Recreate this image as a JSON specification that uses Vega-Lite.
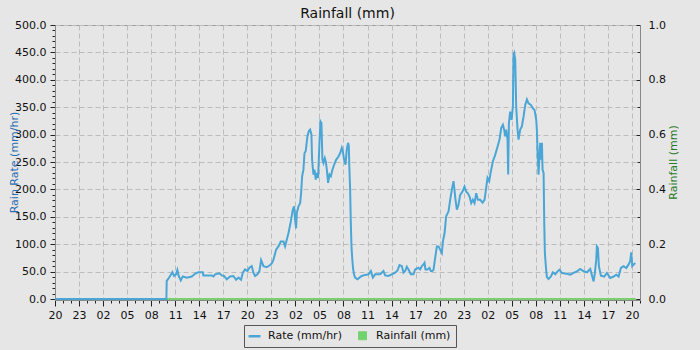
{
  "$schema": "https://vega.github.io/schema/vega-lite/v6.json",
  "width": 585,
  "height": 274,
  "autosize": {"type": "none"},
  "padding": {"left": 55, "top": 25, "right": 60, "bottom": 51},
  "background": "#e6e6e6",
  "title": {"text": "Rainfall (mm)", "fontSize": 14, "fontWeight": "normal", "color": "#111111", "anchor": "middle", "offset": -2},
  "datasets": {
    "rain": [
      {"hours": 0, "rainfall": 0},
      {"hours": 72.45, "rainfall": 0}
    ],
    "rate": [
      {"hours": 0, "rate": 0}, {"hours": 13.9, "rate": 0}, {"hours": 13.94, "rate": 33}, {"hours": 14.15, "rate": 37},
      {"hours": 14.36, "rate": 42}, {"hours": 14.65, "rate": 49}, {"hours": 14.86, "rate": 42}, {"hours": 15.11, "rate": 45},
      {"hours": 15.27, "rate": 53}, {"hours": 15.44, "rate": 42}, {"hours": 15.69, "rate": 34}, {"hours": 15.94, "rate": 41},
      {"hours": 16.44, "rate": 39}, {"hours": 17.06, "rate": 41}, {"hours": 17.48, "rate": 46}, {"hours": 17.89, "rate": 49},
      {"hours": 18.44, "rate": 49}, {"hours": 18.52, "rate": 43}, {"hours": 19.56, "rate": 43}, {"hours": 19.77, "rate": 41},
      {"hours": 19.98, "rate": 45}, {"hours": 20.52, "rate": 47}, {"hours": 20.81, "rate": 43}, {"hours": 21.1, "rate": 42},
      {"hours": 21.43, "rate": 36}, {"hours": 21.85, "rate": 41}, {"hours": 22.26, "rate": 42}, {"hours": 22.6, "rate": 35},
      {"hours": 22.89, "rate": 39}, {"hours": 23.22, "rate": 35}, {"hours": 23.43, "rate": 48}, {"hours": 23.72, "rate": 54},
      {"hours": 24.01, "rate": 51}, {"hours": 24.26, "rate": 57}, {"hours": 24.55, "rate": 60}, {"hours": 24.76, "rate": 48},
      {"hours": 24.97, "rate": 42}, {"hours": 25.26, "rate": 45}, {"hours": 25.51, "rate": 51}, {"hours": 25.72, "rate": 71},
      {"hours": 26.01, "rate": 60}, {"hours": 26.42, "rate": 58}, {"hours": 26.84, "rate": 62}, {"hours": 27.05, "rate": 65},
      {"hours": 27.26, "rate": 72}, {"hours": 27.59, "rate": 90}, {"hours": 27.88, "rate": 96}, {"hours": 28.17, "rate": 105},
      {"hours": 28.51, "rate": 105}, {"hours": 28.71, "rate": 96}, {"hours": 28.92, "rate": 108}, {"hours": 29.13, "rate": 120},
      {"hours": 29.42, "rate": 141}, {"hours": 29.67, "rate": 163}, {"hours": 29.84, "rate": 169}, {"hours": 29.96, "rate": 145},
      {"hours": 30.09, "rate": 129}, {"hours": 30.17, "rate": 157}, {"hours": 30.38, "rate": 169}, {"hours": 30.59, "rate": 175},
      {"hours": 30.71, "rate": 193}, {"hours": 30.84, "rate": 224}, {"hours": 31.0, "rate": 236}, {"hours": 31.13, "rate": 266},
      {"hours": 31.29, "rate": 270}, {"hours": 31.5, "rate": 297}, {"hours": 31.67, "rate": 306}, {"hours": 31.84, "rate": 309},
      {"hours": 32.0, "rate": 300}, {"hours": 32.08, "rate": 254}, {"hours": 32.25, "rate": 227}, {"hours": 32.38, "rate": 236},
      {"hours": 32.54, "rate": 218}, {"hours": 32.67, "rate": 230}, {"hours": 32.83, "rate": 221}, {"hours": 33.0, "rate": 285},
      {"hours": 33.13, "rate": 324}, {"hours": 33.25, "rate": 321}, {"hours": 33.37, "rate": 254}, {"hours": 33.5, "rate": 248},
      {"hours": 33.67, "rate": 257}, {"hours": 33.79, "rate": 251}, {"hours": 33.92, "rate": 236}, {"hours": 34.08, "rate": 212},
      {"hours": 34.25, "rate": 227}, {"hours": 34.42, "rate": 224}, {"hours": 34.62, "rate": 236}, {"hours": 34.83, "rate": 245},
      {"hours": 35.08, "rate": 254}, {"hours": 35.37, "rate": 260}, {"hours": 35.58, "rate": 266}, {"hours": 35.79, "rate": 276},
      {"hours": 35.91, "rate": 270}, {"hours": 36.08, "rate": 254}, {"hours": 36.25, "rate": 245}, {"hours": 36.41, "rate": 273},
      {"hours": 36.58, "rate": 285}, {"hours": 36.66, "rate": 279}, {"hours": 36.74, "rate": 236}, {"hours": 36.83, "rate": 200},
      {"hours": 36.91, "rate": 140}, {"hours": 37.0, "rate": 95}, {"hours": 37.1, "rate": 72}, {"hours": 37.2, "rate": 55},
      {"hours": 37.33, "rate": 44}, {"hours": 37.45, "rate": 39}, {"hours": 37.74, "rate": 36}, {"hours": 37.99, "rate": 39},
      {"hours": 38.28, "rate": 42}, {"hours": 38.7, "rate": 44}, {"hours": 39.12, "rate": 45}, {"hours": 39.41, "rate": 51},
      {"hours": 39.66, "rate": 39}, {"hours": 39.95, "rate": 45}, {"hours": 40.57, "rate": 45}, {"hours": 40.99, "rate": 51},
      {"hours": 41.2, "rate": 43}, {"hours": 41.61, "rate": 42}, {"hours": 42.03, "rate": 45}, {"hours": 42.45, "rate": 48},
      {"hours": 42.74, "rate": 52}, {"hours": 42.99, "rate": 62}, {"hours": 43.28, "rate": 60}, {"hours": 43.49, "rate": 48},
      {"hours": 43.7, "rate": 51}, {"hours": 43.9, "rate": 59}, {"hours": 44.11, "rate": 54}, {"hours": 44.4, "rate": 45},
      {"hours": 44.73, "rate": 45}, {"hours": 44.94, "rate": 54}, {"hours": 45.36, "rate": 57}, {"hours": 45.57, "rate": 54},
      {"hours": 45.78, "rate": 60}, {"hours": 45.98, "rate": 63}, {"hours": 46.11, "rate": 66}, {"hours": 46.23, "rate": 54},
      {"hours": 46.48, "rate": 54}, {"hours": 46.73, "rate": 57}, {"hours": 46.9, "rate": 51}, {"hours": 47.07, "rate": 51},
      {"hours": 47.23, "rate": 53}, {"hours": 47.44, "rate": 75}, {"hours": 47.65, "rate": 96}, {"hours": 47.86, "rate": 96},
      {"hours": 48.07, "rate": 90}, {"hours": 48.27, "rate": 84}, {"hours": 48.4, "rate": 105}, {"hours": 48.61, "rate": 120},
      {"hours": 48.81, "rate": 151}, {"hours": 49.11, "rate": 160}, {"hours": 49.31, "rate": 181}, {"hours": 49.52, "rate": 199},
      {"hours": 49.73, "rate": 215}, {"hours": 49.85, "rate": 199}, {"hours": 49.98, "rate": 181}, {"hours": 50.15, "rate": 163},
      {"hours": 50.35, "rate": 172}, {"hours": 50.56, "rate": 190}, {"hours": 50.85, "rate": 196}, {"hours": 51.1, "rate": 205},
      {"hours": 51.31, "rate": 196}, {"hours": 51.52, "rate": 193}, {"hours": 51.73, "rate": 187}, {"hours": 51.94, "rate": 175},
      {"hours": 52.14, "rate": 181}, {"hours": 52.35, "rate": 175}, {"hours": 52.56, "rate": 193}, {"hours": 52.77, "rate": 181},
      {"hours": 53.06, "rate": 181}, {"hours": 53.35, "rate": 176}, {"hours": 53.6, "rate": 181}, {"hours": 53.77, "rate": 199},
      {"hours": 53.97, "rate": 221}, {"hours": 54.18, "rate": 215}, {"hours": 54.39, "rate": 233}, {"hours": 54.64, "rate": 251},
      {"hours": 54.93, "rate": 263}, {"hours": 55.22, "rate": 278}, {"hours": 55.47, "rate": 291}, {"hours": 55.68, "rate": 312},
      {"hours": 55.89, "rate": 318}, {"hours": 56.05, "rate": 309}, {"hours": 56.18, "rate": 297}, {"hours": 56.3, "rate": 309},
      {"hours": 56.47, "rate": 291}, {"hours": 56.55, "rate": 227}, {"hours": 56.64, "rate": 321}, {"hours": 56.8, "rate": 342},
      {"hours": 56.97, "rate": 327}, {"hours": 57.14, "rate": 351}, {"hours": 57.22, "rate": 446}, {"hours": 57.3, "rate": 449},
      {"hours": 57.43, "rate": 437}, {"hours": 57.55, "rate": 351}, {"hours": 57.72, "rate": 309}, {"hours": 57.84, "rate": 291},
      {"hours": 58.05, "rate": 309}, {"hours": 58.26, "rate": 315}, {"hours": 58.47, "rate": 333}, {"hours": 58.68, "rate": 354},
      {"hours": 58.89, "rate": 364}, {"hours": 59.09, "rate": 357}, {"hours": 59.38, "rate": 354}, {"hours": 59.63, "rate": 348},
      {"hours": 59.84, "rate": 345}, {"hours": 60.05, "rate": 327}, {"hours": 60.13, "rate": 309}, {"hours": 60.22, "rate": 268},
      {"hours": 60.34, "rate": 227}, {"hours": 60.47, "rate": 267}, {"hours": 60.55, "rate": 285}, {"hours": 60.67, "rate": 254},
      {"hours": 60.76, "rate": 285}, {"hours": 60.84, "rate": 236}, {"hours": 60.97, "rate": 230}, {"hours": 61.05, "rate": 139},
      {"hours": 61.13, "rate": 84}, {"hours": 61.26, "rate": 58}, {"hours": 61.38, "rate": 40}, {"hours": 61.59, "rate": 36.5},
      {"hours": 61.88, "rate": 41}, {"hours": 62.13, "rate": 48.7}, {"hours": 62.42, "rate": 45}, {"hours": 62.71, "rate": 50.5},
      {"hours": 62.96, "rate": 53.6}, {"hours": 63.25, "rate": 47.5}, {"hours": 63.88, "rate": 46}, {"hours": 64.29, "rate": 44.4},
      {"hours": 64.71, "rate": 47.5}, {"hours": 65.13, "rate": 50.5}, {"hours": 65.54, "rate": 54.8}, {"hours": 65.96, "rate": 50.5},
      {"hours": 66.38, "rate": 48.7}, {"hours": 66.79, "rate": 54.8}, {"hours": 67.04, "rate": 41}, {"hours": 67.21, "rate": 32},
      {"hours": 67.37, "rate": 47.5}, {"hours": 67.54, "rate": 71.8}, {"hours": 67.62, "rate": 96}, {"hours": 67.75, "rate": 93},
      {"hours": 67.87, "rate": 60}, {"hours": 68.12, "rate": 42.6}, {"hours": 68.54, "rate": 41}, {"hours": 68.87, "rate": 47.5},
      {"hours": 69.29, "rate": 38.4}, {"hours": 69.71, "rate": 41}, {"hours": 70.04, "rate": 44.4}, {"hours": 70.33, "rate": 41},
      {"hours": 70.62, "rate": 56.6}, {"hours": 70.95, "rate": 60}, {"hours": 71.29, "rate": 56.6}, {"hours": 71.56, "rate": 62.7},
      {"hours": 71.77, "rate": 68.8}, {"hours": 71.91, "rate": 85}, {"hours": 72.03, "rate": 60}, {"hours": 72.2, "rate": 62.7},
      {"hours": 72.41, "rate": 65.7}
    ]
  },
  "encoding": {
    "x": {
      "field": "hours",
      "type": "quantitative",
      "scale": {"domain": [0, 73], "nice": false, "zero": false},
      "axis": {
        "title": null,
        "offset": 1,
        "values": [0,1,2,3,4,5,6,7,8,9,10,11,12,13,14,15,16,17,18,19,20,21,22,23,24,25,26,27,28,29,30,31,32,33,34,35,36,37,38,39,40,41,42,43,44,45,46,47,48,49,50,51,52,53,54,55,56,57,58,59,60,61,62,63,64,65,66,67,68,69,70,71,72,73],
        "labelExpr": "datum.value % 3 === 0 ? (((datum.value + 20) % 24) < 10 ? '0' : '') + ((datum.value + 20) % 24) : ''",
        "labelOverlap": false,
        "labelFlush": false,
        "labelPadding": 3,
        "grid": true,
        "gridOpacity": {"condition": {"test": "datum.value % 3 !== 0 || datum.value === 0", "value": 0}, "value": 1},
        "tickSize": {"condition": {"test": "datum.value % 3 !== 0", "value": 3}, "value": 6}
      }
    }
  },
  "layer": [
    {
      "data": {"name": "rain"},
      "mark": {"type": "line", "strokeWidth": 2},
      "encoding": {
        "y": {
          "field": "rainfall",
          "type": "quantitative",
          "scale": {"domain": [0, 1], "nice": false},
          "axis": {
            "orient": "right",
            "title": "Rainfall (mm)",
            "titleColor": "#2a7a2a",
            "titleX": 33,
            "titleY": 137,
            "titleAngle": 270,
            "titleAlign": "center",
            "titleBaseline": "middle",
            "values": [0, 0.1, 0.2, 0.3, 0.4, 0.5, 0.6, 0.7, 0.8, 0.9, 1.0],
            "labelExpr": "round(datum.value * 10) % 2 === 0 ? format(datum.value, '.1f') : ''",
            "labelOverlap": false,
            "labelFlush": false,
            "grid": false,
            "tickSize": {"condition": {"test": "round(datum.value * 10) % 2 !== 0", "value": -3}, "value": -4},
            "labelPadding": 12
          }
        },
        "color": {
          "datum": "Rainfall (mm)",
          "type": "nominal",
          "scale": {"domain": ["Rate (mm/hr)", "Rainfall (mm)"], "range": ["#4aa6d6", "#7ccf6e"]},
          "legend": {
            "orient": "none",
            "legendX": 189,
            "legendY": 300,
            "direction": "horizontal",
            "title": null,
            "fillColor": "#e6e6e6",
            "strokeColor": "#555555",
            "padding": 5,
            "symbolSize": 144,
            "symbolType": "stroke",
            "labelFontSize": 11,
            "labelColor": "#111111",
            "labelOffset": 8,
            "columnPadding": 14,
            "encode": {
              "symbols": {
                "update": {
                  "shape": {"signal": "datum.value === 'Rate (mm/hr)' ? 'stroke' : 'square'"},
                  "size": {"signal": "datum.value === 'Rate (mm/hr)' ? 144 : 64"},
                  "fill": {"signal": "datum.value === 'Rate (mm/hr)' ? 'transparent' : '#6fd46f'"},
                  "stroke": {"signal": "datum.value === 'Rate (mm/hr)' ? '#4aa6d6' : '#555555'"},
                  "strokeWidth": {"signal": "datum.value === 'Rate (mm/hr)' ? 2.5 : 1"}
                }
              }
            }
          }
        }
      }
    },
    {
      "data": {"name": "rate"},
      "mark": {"type": "line", "strokeWidth": 2},
      "encoding": {
        "y": {
          "field": "rate",
          "type": "quantitative",
          "scale": {"domain": [0, 500], "nice": false},
          "axis": {
            "orient": "left",
            "title": "Rain Rate (mm/hr)",
            "titleColor": "#2b6cb0",
            "titleX": -41,
            "titleY": 137,
            "titleAngle": 270,
            "titleAlign": "center",
            "titleBaseline": "middle",
            "values": [0,10,20,30,40,50,60,70,80,90,100,110,120,130,140,150,160,170,180,190,200,210,220,230,240,250,260,270,280,290,300,310,320,330,340,350,360,370,380,390,400,410,420,430,440,450,460,470,480,490,500],
            "labelExpr": "datum.value % 50 === 0 ? format(datum.value, '.1f') : ''",
            "labelOverlap": false,
            "labelFlush": false,
            "labelPadding": 4,
            "grid": true,
            "gridOpacity": {"condition": {"test": "datum.value % 50 !== 0 || datum.value === 0", "value": 0}, "value": 1},
            "tickSize": {"condition": {"test": "datum.value % 50 !== 0", "value": 3}, "value": 5}
          }
        },
        "color": {"datum": "Rate (mm/hr)", "type": "nominal"}
      }
    }
  ],
  "resolve": {"scale": {"y": "independent"}},
  "config": {
    "font": "DejaVu Sans",
    "view": {"stroke": "#999999", "strokeWidth": 1},
    "axis": {
      "labelFont": "DejaVu Sans",
      "labelFontSize": 11,
      "labelColor": "#111111",
      "tickColor": "#222222",
      "domainColor": "#888888",
      "gridColor": "#bcbcbc",
      "gridDash": [5, 3],
      "gridWidth": 1,
      "titleFont": "DejaVu Sans",
      "titleFontSize": 11,
      "titleFontWeight": "normal"
    },
    "legend": {"labelFont": "DejaVu Sans"},
    "title": {"font": "DejaVu Sans"}
  }
}
